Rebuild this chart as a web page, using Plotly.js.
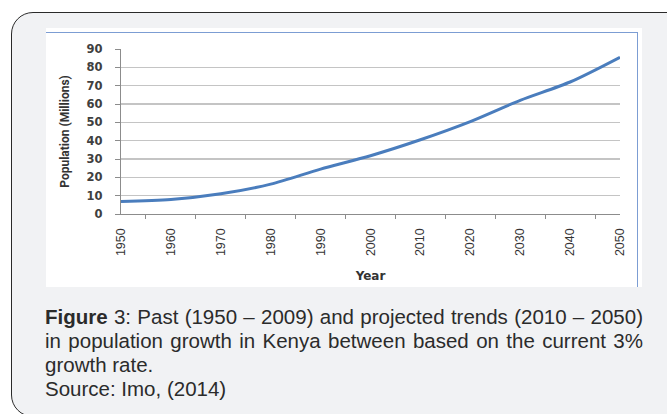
<!DOCTYPE html>
<html>
<head>
<meta charset="utf-8">
<script src="https://cdn.plot.ly/plotly-3.0.1.min.js"></script>
<style>
  html, body { margin: 0; padding: 0; width: 667px; height: 414px; overflow: hidden; background: #ffffff; }
  #box { position: absolute; left: 11px; top: 12px; width: 700px; height: 403px; border: 1.5px solid #2a2a2a; border-radius: 22px; background: #f1f2f4; }
  #chart { position: absolute; left: 46px; top: 28px; width: 596px; height: 259px; background: #ffffff; }
  #frame { position: absolute; left: 46px; top: 32px; width: 592px; height: 255px; border-top: 1.5px solid #7c9dd3; border-right: 1.5px solid #7c9dd3; box-sizing: border-box; pointer-events: none; }
  #caption { position: absolute; left: 45px; top: 305px; width: 598px; font-family: "Liberation Sans", Arial, sans-serif; font-size: 20.5px; line-height: 24px; color: #2b2b2b; }
  #caption .j { display: block; text-align: justify; text-align-last: justify; white-space: nowrap; }
  #caption .l { display: block; white-space: nowrap; }
</style>
</head>
<body>
<div id="box"></div>
<div id="chart"></div>
<div id="frame"></div>
<div id="caption"><span class="j"><b>Figure</b> 3: Past (1950 – 2009) and projected trends (2010 – 2050)</span><span class="j">in population growth in Kenya between based on the current 3%</span><span class="l">growth rate.</span><span class="l">Source: Imo, (2014)</span></div>
<script>
const years = ["1950", "1960", "1970", "1980", "1990", "2000", "2010", "2020", "2030", "2040", "2050"];
const population = [6.8, 7.9, 11.0, 16.3, 24.5, 31.8, 40.5, 50.4, 62.0, 72.0, 85.5];
const yTickValues = [0, 10, 20, 30, 40, 50, 60, 70, 80, 90];
const yAxisTitle = "Population (Millions)";
const xAxisTitle = "Year";

const trace = {
  x: years,
  y: population,
  type: "scatter",
  mode: "lines",
  line: { color: "#4a7dbd", width: 3, shape: "spline", smoothing: 0.8 },
  hoverinfo: "skip"
};

const layout = {
  width: 596,
  height: 259,
  margin: { l: 75, r: 22, t: 21, b: 73 },
  paper_bgcolor: "#ffffff",
  plot_bgcolor: "#ffffff",
  showlegend: false,
  xaxis: {
    type: "category",
    tickson: "boundaries",
    ticks: "outside",
    ticklen: 4,
    tickcolor: "#8c8c8c",
    tickangle: -90,
    ticklabelstandoff: 8,
    tickfont: { family: "Liberation Sans, Arial, sans-serif", size: 12.5, color: "#333333" },
    showgrid: false,
    showline: true,
    linecolor: "#8c8c8c",
    linewidth: 1.3,
    zeroline: false,
    fixedrange: true,
    title: { text: "<b>" + xAxisTitle + "</b>", font: { family: "DejaVu Sans, sans-serif", size: 12, color: "#333333" }, standoff: 16 }
  },
  yaxis: {
    range: [0, 90],
    tickvals: yTickValues,
    ticktext: yTickValues.map(String),
    ticks: "outside",
    ticklen: 5,
    tickcolor: "#8c8c8c",
    ticklabelstandoff: 10,
    tickfont: { family: "DejaVu Sans, sans-serif", size: 11.5, color: "#404040", weight: "bold" },
    showgrid: true,
    gridcolor: "#c4c4c4",
    gridwidth: 1.3,
    showline: true,
    linecolor: "#8c8c8c",
    linewidth: 1.3,
    zeroline: false,
    fixedrange: true,
    title: { text: "<b>" + yAxisTitle + "</b>", font: { family: "Roboto, sans-serif", size: 12, color: "#333333" }, standoff: 14 }
  }
};

Plotly.newPlot("chart", [trace], layout, { staticPlot: true, displayModeBar: false });
</script>
</body>
</html>
